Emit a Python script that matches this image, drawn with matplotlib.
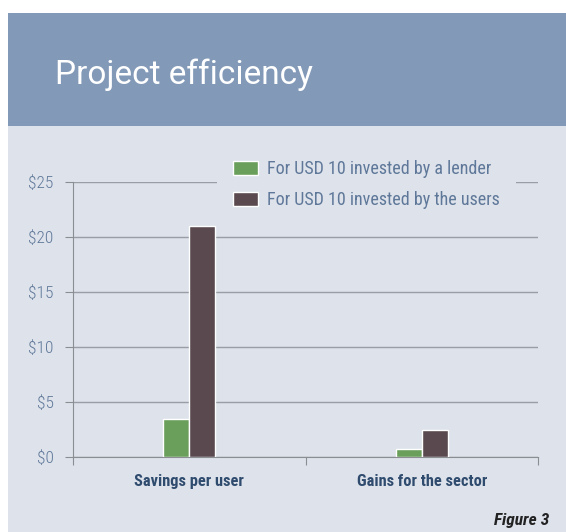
import matplotlib
matplotlib.use('Agg')
import matplotlib.pyplot as plt
from matplotlib.patches import Rectangle
from matplotlib import font_manager
import numpy as np

# datos del gráfico
categories = ['Savings per user', 'Gains for the sector']
lender = [3.5, 0.7]
users = [21.0, 2.5]
series_names = ['For USD 10 invested by a lender', 'For USD 10 invested by the users']
yticks = [0, 5, 10, 15, 20, 25]
ytick_labels = ['$0', '$5', '$10', '$15', '$20', '$25']

# buscamos una fuente estrecha instalada
names = {f.name for f in font_manager.fontManager.ttflist}
narrow = 'DejaVu Sans'
for cand in ['Roboto Condensed', 'Liberation Sans Narrow', 'Archivo Narrow', 'PT Sans Narrow',
             'Fira Sans Condensed', 'IBM Plex Sans Condensed', 'Barlow Semi Condensed',
             'Asap Condensed', 'Encode Sans Condensed']:
    if cand in names:
        narrow = cand
        break
plt.rcParams['font.family'] = [narrow, 'DejaVu Sans']
title_font = ['Roboto', 'DejaVu Sans']

bg = '#dde2eb'
header = '#8299b8'
green = '#6a9e5b'
dark = '#5a4a4f'
tick_color = '#5f7899'
label_color = '#2f4b6e'

fig = plt.figure(figsize=(5.66, 5.32), dpi=100)
fig.patch.set_facecolor('white')

# fondo y cabecera
fig.patches.append(Rectangle((8 / 566, 0), 1, 406 / 532, transform=fig.transFigure,
                             facecolor=bg, edgecolor='none', zorder=-2))
fig.patches.append(Rectangle((8 / 566, 406 / 532), 1, 113 / 532, transform=fig.transFigure,
                             facecolor=header, edgecolor='none', zorder=-2))
fig.text(55 / 566, (532 - 84) / 532, 'Project efficiency', color='white',
         fontsize=24, va='baseline', ha='left', family=title_font)

ax = fig.add_axes([73 / 566, 75 / 532, 465 / 566, 275 / 532])
ax.set_facecolor('none')

x = np.arange(len(categories))
w = 0.112
ax.bar(x - w / 2, lender, w, color=green, edgecolor='white', linewidth=1, label=series_names[0], zorder=3)
ax.bar(x + w / 2, users, w, color=dark, edgecolor='white', linewidth=1, label=series_names[1], zorder=3)

ax.set_xlim(-0.5, 1.5)
ax.set_ylim(0, 25)
ax.set_yticks(yticks)
ax.set_yticklabels(ytick_labels, color=tick_color, fontsize=12.5, fontweight='light')
ax.yaxis.grid(True, color='#9a9da3', linewidth=1)
ax.set_axisbelow(True)

ax.set_xticks([-0.5, 0.5, 1.5])
ax.set_xticklabels([])
ax.tick_params(axis='x', length=6, color='#8a8d92', direction='out')
ax.tick_params(axis='y', length=6, color='#8a8d92', pad=8)
for i, c in enumerate(categories):
    ax.text(x[i], -2.2, c, ha='center', va='center', fontsize=11.8, fontweight='bold',
            color=label_color)

for s in ['top', 'right']:
    ax.spines[s].set_visible(False)
for s in ['left', 'bottom']:
    ax.spines[s].set_color('#8a8d92')

# leyenda con el mismo fondo, tapa la línea de $25
leg = fig.legend(*ax.get_legend_handles_labels(), loc='upper left',
                 bbox_to_anchor=(208 / 566, (532 - 135) / 532), frameon=True, facecolor=bg,
                 edgecolor='none', framealpha=1, fontsize=13, handlelength=1.35, handleheight=0.8,
                 handletextpad=0.5, labelspacing=0.72, borderpad=0.9, fancybox=False)
leg.set_zorder(5)
for t in leg.get_texts():
    t.set_color(tick_color)

fig.text(549 / 566, (532 - 521) / 532, 'Figure 3', ha='right', va='center', fontsize=12.5,
         fontstyle='italic', fontweight='bold', color='#222222')

fig.savefig('out.png', dpi=100)
